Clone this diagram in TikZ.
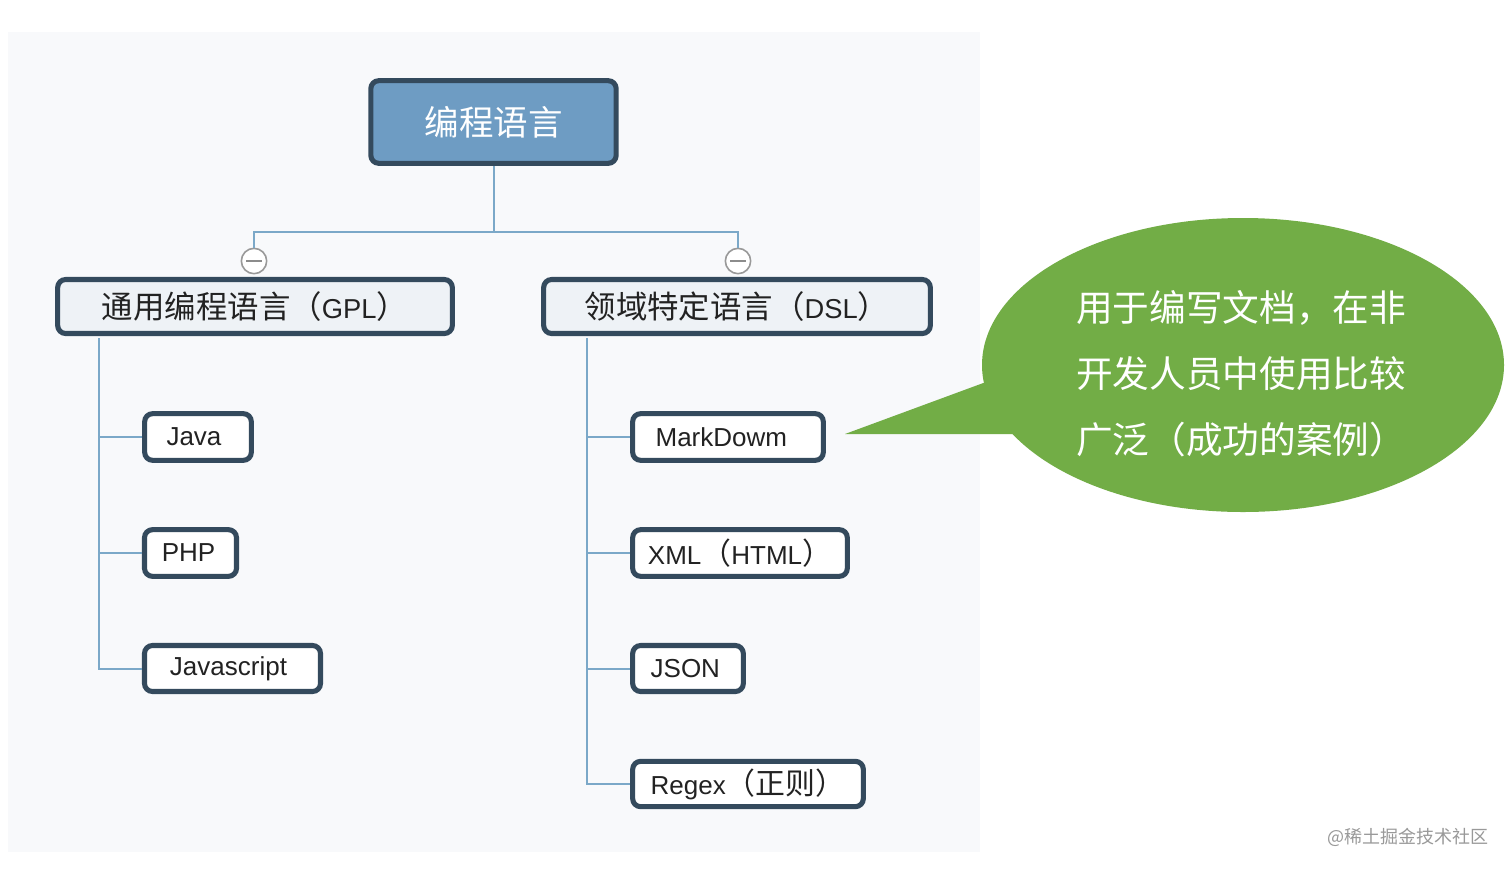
\documentclass[tikz,border=0pt]{standalone}
\usepackage{fontspec}
\setmainfont{Liberation Sans}
\newfontfamily\cjk[Scale=1.15]{Noto Sans CJK SC}
\newfontfamily\cjkplain{Noto Sans CJK SC}
\usetikzlibrary{shapes.geometric}
\definecolor{panel}{HTML}{F8F9FB}
\definecolor{rootfill}{HTML}{6E9CC3}
\definecolor{boxborder}{HTML}{344A5D}
\definecolor{boxfill}{HTML}{EEF2F6}
\definecolor{linkc}{HTML}{7BA8C8}
\definecolor{calloutg}{HTML}{72AD46}
\definecolor{txt}{HTML}{222222}
\tikzset{
  box/.style={draw=boxborder, line width=3.8pt, rounded corners=6pt, fill=white, text=txt, inner sep=0pt, font=\fontsize{19.5}{22}\selectfont},
  catbox/.style={box, fill=boxfill, font=\fontsize{20.5}{24}\selectfont},
  rootbox/.style={box, fill=rootfill, text=white, font=\fontsize{22.5}{26}\selectfont},
  link/.style={draw=linkc, line width=1.5pt},
  toggle/.style={circle, draw=gray!80, line width=1.2pt, fill=white, minimum size=19pt, inner sep=0pt,
    path picture={\draw[gray!90, line width=1.2pt] ([xshift=-6pt]path picture bounding box.center) -- ([xshift=6pt]path picture bounding box.center);}},
}
\begin{document}
\begin{tikzpicture}[x=0.75pt, y=-0.75pt]
\useasboundingbox (0,0) rectangle (1512,871);
\fill[white] (0,0) rectangle (1512,871);
\fill[panel] (8,32) rectangle (980,852);

% callout
\fill[calloutg] (1243,365) ellipse [x radius=261, y radius=147];
\fill[calloutg] (845,434) -- (986,382) -- (1040,382) -- (1030,434) -- cycle;
\node[text=white, align=left, font=\cjkplain\fontsize{27.5}{49.5}\selectfont, anchor=north west, inner sep=0pt] (note) at (1076,290)
  {用于编写文档，在非\\开发人员中使用比较\\广泛（成功的案例）};

% nodes
\node[rootbox, minimum width=184pt, minimum height=62pt] (root) at (493.5,122) {\cjk 编程语言};
\node[catbox, minimum width=296pt, minimum height=40.5pt] (gpl) at (255,306.5) {{\cjk 通用编程语言（}GPL{\cjk ）}};
\node[catbox, minimum width=290pt, minimum height=40.5pt] (dsl) at (737,306.5) {{\cjk 领域特定语言（}DSL{\cjk ）}};

\node[toggle] (c1) at (254,261) {};
\node[toggle] (c2) at (738,261) {};

\node[box, minimum width=80pt, minimum height=35pt] (java) at (198,437) {\hspace*{-6pt}Java};
\node[box, minimum width=69pt, minimum height=35pt] (php) at (190.5,553) {\hspace*{-3pt}PHP};
\node[box, minimum width=132pt, minimum height=34.5pt] (js) at (232.5,668.5) {\hspace*{-6pt}Javascript};

\node[box, minimum width=143pt, minimum height=35pt] (md) at (728,437) {\hspace*{-10pt}MarkDowm};
\node[box, minimum width=161pt, minimum height=35pt] (xml) at (740,553) {XML{\cjk （}HTML{\cjk ）}};
\node[box, minimum width=83pt, minimum height=34.5pt] (json) at (688,668.5) {\hspace*{-4pt}JSON};
\node[box, minimum width=173pt, minimum height=34pt] (regex) at (748,784) {Regex{\cjk （正则）}};

% connectors
\coordinate (j) at (493.5,232);
\draw[link] (root.south) -- (j) -| (c1.north);
\draw[link] (j) -| (c2.north);

\coordinate (lt) at (99,338);
\draw[link] (lt) |- (js.west);
\draw[link] (lt |- java.west) -- (java.west);
\draw[link] (lt |- php.west) -- (php.west);

\coordinate (rt) at (587,338);
\draw[link] (rt) |- (regex.west);
\draw[link] (rt |- md.west) -- (md.west);
\draw[link] (rt |- xml.west) -- (xml.west);
\draw[link] (rt |- json.west) -- (json.west);

% watermark
\node[text=gray!80, font=\cjkplain\fontsize{13.5}{16}\selectfont, inner sep=0pt] (wm) at (1408,837) {@稀土掘金技术社区};
\end{tikzpicture}
\end{document}
